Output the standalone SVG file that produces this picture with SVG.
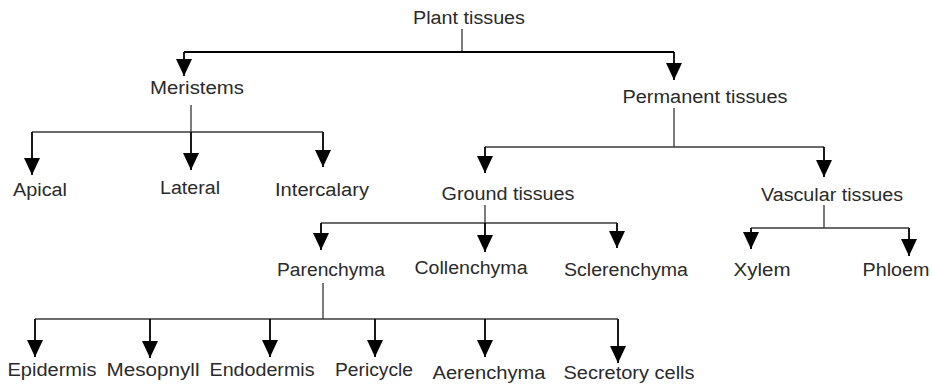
<svg xmlns="http://www.w3.org/2000/svg" width="932" height="386" viewBox="0 0 932 386">
<defs>
<marker id="ah" viewBox="0 0 17 16" refX="17" refY="8" markerWidth="17" markerHeight="16" markerUnits="userSpaceOnUse" orient="auto">
<path d="M0,0 L17,8 L0,16 Z" fill="#000"/>
</marker>
<style>
text{font-family:"Liberation Sans",Arial,sans-serif;font-size:18px;fill:#2a2a2a;text-anchor:middle;dominant-baseline:central}
.bus{fill:none;stroke:#3a3a3a;stroke-width:1.6}
.top{fill:none;stroke:#000;stroke-width:2}
.arr{fill:none;stroke:#000;stroke-width:1.8;marker-end:url(#ah)}
.stem{fill:none;stroke:#444;stroke-width:1.4}
</style>
</defs>
<rect width="932" height="386" fill="#fff"/>
<g id="connectors">
<line class="stem" x1="462" y1="29" x2="462" y2="52"/>
<line class="top" x1="184" y1="52" x2="674" y2="52"/>
<line class="arr" x1="184" y1="52" x2="184" y2="76"/>
<line class="arr" x1="674" y1="52" x2="674" y2="80"/>
<line class="stem" x1="191" y1="105" x2="191" y2="132"/>
<line class="bus" x1="32" y1="132" x2="323" y2="132"/>
<line class="arr" x1="32" y1="132" x2="32" y2="175"/>
<line class="arr" x1="191" y1="132" x2="191" y2="170"/>
<line class="arr" x1="323" y1="132" x2="323" y2="167"/>
<line class="stem" x1="674" y1="108" x2="674" y2="147"/>
<line class="bus" x1="485" y1="147" x2="824" y2="147"/>
<line class="arr" x1="485" y1="147" x2="485" y2="173"/>
<line class="arr" x1="824" y1="147" x2="824" y2="177"/>
<line class="stem" x1="485" y1="205" x2="485" y2="223"/>
<line class="bus" x1="321" y1="223" x2="617" y2="223"/>
<line class="arr" x1="321" y1="223" x2="321" y2="250"/>
<line class="arr" x1="485" y1="223" x2="485" y2="252"/>
<line class="arr" x1="617" y1="223" x2="617" y2="248"/>
<line class="stem" x1="824" y1="205" x2="824" y2="228"/>
<line class="bus" x1="751" y1="228" x2="909" y2="228"/>
<line class="arr" x1="751" y1="228" x2="751" y2="249"/>
<line class="arr" x1="909" y1="228" x2="909" y2="256"/>
<line class="stem" x1="323" y1="283" x2="323" y2="319"/>
<line class="bus" x1="35" y1="319" x2="618" y2="319"/>
<line class="arr" x1="35" y1="319" x2="35" y2="357"/>
<line class="arr" x1="150" y1="319" x2="150" y2="358"/>
<line class="arr" x1="270" y1="319" x2="270" y2="357"/>
<line class="arr" x1="375" y1="319" x2="375" y2="357"/>
<line class="arr" x1="485" y1="319" x2="485" y2="357"/>
<line class="arr" x1="618" y1="319" x2="618" y2="363"/>
</g>
<g id="plant-tissues"><text x="469" y="18" textLength="112" lengthAdjust="spacingAndGlyphs">Plant tissues</text></g>
<g id="meristems"><text x="197" y="88" textLength="94" lengthAdjust="spacingAndGlyphs">Meristems</text></g>
<g id="permanent-tissues"><text x="705" y="97" textLength="165" lengthAdjust="spacingAndGlyphs">Permanent tissues</text></g>
<g id="apical"><text x="40" y="190" textLength="54" lengthAdjust="spacingAndGlyphs">Apical</text></g>
<g id="lateral"><text x="190" y="188" textLength="60" lengthAdjust="spacingAndGlyphs">Lateral</text></g>
<g id="intercalary"><text x="322" y="190" textLength="94" lengthAdjust="spacingAndGlyphs">Intercalary</text></g>
<g id="ground-tissues"><text x="508" y="194" textLength="133" lengthAdjust="spacingAndGlyphs">Ground tissues</text></g>
<g id="vascular-tissues"><text x="832" y="195" textLength="142" lengthAdjust="spacingAndGlyphs">Vascular tissues</text></g>
<g id="parenchyma"><text x="331" y="270" textLength="108" lengthAdjust="spacingAndGlyphs">Parenchyma</text></g>
<g id="collenchyma"><text x="471" y="268" textLength="113" lengthAdjust="spacingAndGlyphs">Collenchyma</text></g>
<g id="sclerenchyma"><text x="626" y="270" textLength="124" lengthAdjust="spacingAndGlyphs">Sclerenchyma</text></g>
<g id="xylem"><text x="762" y="270" textLength="57" lengthAdjust="spacingAndGlyphs">Xylem</text></g>
<g id="phloem"><text x="896" y="270" textLength="67" lengthAdjust="spacingAndGlyphs">Phloem</text></g>
<g id="epidermis"><text x="52" y="370" textLength="89" lengthAdjust="spacingAndGlyphs">Epidermis</text></g>
<g id="mesopnyll"><text x="153" y="370" textLength="93" lengthAdjust="spacingAndGlyphs">Mesopnyll</text></g>
<g id="endodermis"><text x="262" y="370" textLength="105" lengthAdjust="spacingAndGlyphs">Endodermis</text></g>
<g id="pericycle"><text x="374" y="370" textLength="78" lengthAdjust="spacingAndGlyphs">Pericycle</text></g>
<g id="aerenchyma"><text x="489" y="373" textLength="113" lengthAdjust="spacingAndGlyphs">Aerenchyma</text></g>
<g id="secretory-cells"><text x="629" y="373" textLength="131" lengthAdjust="spacingAndGlyphs">Secretory cells</text></g>
</svg>
